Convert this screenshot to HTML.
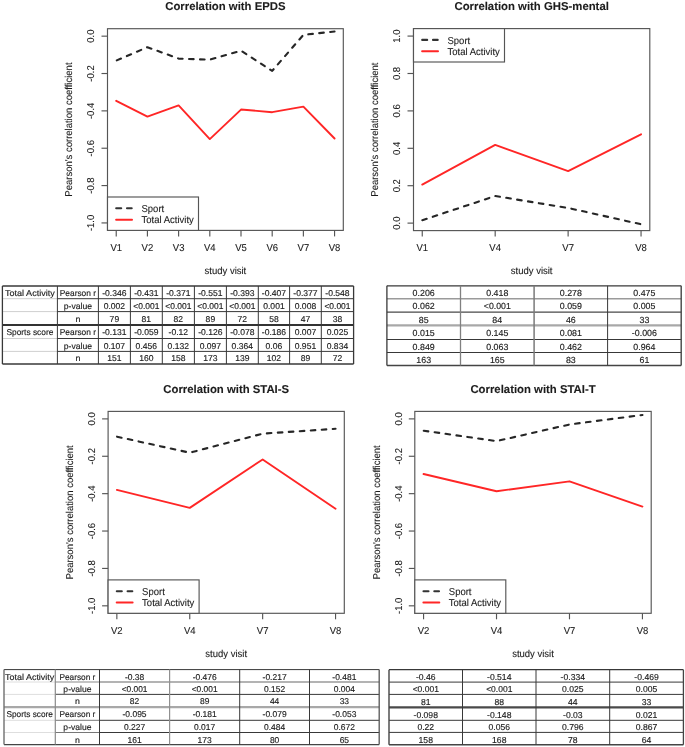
<!DOCTYPE html><html><head><meta charset="utf-8"><title>Correlation plots</title><style>html,body{margin:0;padding:0;background:#fff;overflow:hidden;}svg{display:block;font-family:"Liberation Sans", sans-serif;text-rendering:geometricPrecision;will-change:transform;font-variant-ligatures:none;font-kerning:normal;}.rt{fill:#1c1c1c;stroke:#1c1c1c;stroke-width:0.1px;}.tt{fill:#1c1c1c;stroke:#1c1c1c;stroke-width:0.15px;}</style></head><body>
<svg width="685" height="747" viewBox="0 0 685 747">
<rect width="685" height="747" fill="#fff"/>
<text class="rt" transform="translate(225.4,9.9) scale(1,1.01)" font-size="11.35" font-weight="bold" text-anchor="middle">Correlation with EPDS</text>
<rect x="107.5" y="28.7" width="235.8" height="201.7" fill="none" stroke="#555" stroke-width="1.15"/>
<line x1="101.5" y1="222.93" x2="107.5" y2="222.93" stroke="#555" stroke-width="1.15"/>
<text class="rt" transform="translate(94.2,222.93) rotate(-90) scale(1,1.05)" font-size="9.5" text-anchor="middle">-1.0</text>
<line x1="101.5" y1="185.58" x2="107.5" y2="185.58" stroke="#555" stroke-width="1.15"/>
<text class="rt" transform="translate(94.2,185.58) rotate(-90) scale(1,1.05)" font-size="9.5" text-anchor="middle">-0.8</text>
<line x1="101.5" y1="148.23" x2="107.5" y2="148.23" stroke="#555" stroke-width="1.15"/>
<text class="rt" transform="translate(94.2,148.23) rotate(-90) scale(1,1.05)" font-size="9.5" text-anchor="middle">-0.6</text>
<line x1="101.5" y1="110.87" x2="107.5" y2="110.87" stroke="#555" stroke-width="1.15"/>
<text class="rt" transform="translate(94.2,110.87) rotate(-90) scale(1,1.05)" font-size="9.5" text-anchor="middle">-0.4</text>
<line x1="101.5" y1="73.52" x2="107.5" y2="73.52" stroke="#555" stroke-width="1.15"/>
<text class="rt" transform="translate(94.2,73.52) rotate(-90) scale(1,1.05)" font-size="9.5" text-anchor="middle">-0.2</text>
<line x1="101.5" y1="36.17" x2="107.5" y2="36.17" stroke="#555" stroke-width="1.15"/>
<text class="rt" transform="translate(94.2,36.17) rotate(-90) scale(1,1.05)" font-size="9.5" text-anchor="middle">0.0</text>
<line x1="116.23" y1="230.4" x2="116.23" y2="236.4" stroke="#555" stroke-width="1.15"/>
<text class="rt" transform="translate(116.23,251.2) scale(1,1.05)" font-size="9.5" text-anchor="middle">V1</text>
<line x1="147.42" y1="230.4" x2="147.42" y2="236.4" stroke="#555" stroke-width="1.15"/>
<text class="rt" transform="translate(147.42,251.2) scale(1,1.05)" font-size="9.5" text-anchor="middle">V2</text>
<line x1="178.61" y1="230.4" x2="178.61" y2="236.4" stroke="#555" stroke-width="1.15"/>
<text class="rt" transform="translate(178.61,251.2) scale(1,1.05)" font-size="9.5" text-anchor="middle">V3</text>
<line x1="209.8" y1="230.4" x2="209.8" y2="236.4" stroke="#555" stroke-width="1.15"/>
<text class="rt" transform="translate(209.8,251.2) scale(1,1.05)" font-size="9.5" text-anchor="middle">V4</text>
<line x1="241" y1="230.4" x2="241" y2="236.4" stroke="#555" stroke-width="1.15"/>
<text class="rt" transform="translate(241,251.2) scale(1,1.05)" font-size="9.5" text-anchor="middle">V5</text>
<line x1="272.19" y1="230.4" x2="272.19" y2="236.4" stroke="#555" stroke-width="1.15"/>
<text class="rt" transform="translate(272.19,251.2) scale(1,1.05)" font-size="9.5" text-anchor="middle">V6</text>
<line x1="303.38" y1="230.4" x2="303.38" y2="236.4" stroke="#555" stroke-width="1.15"/>
<text class="rt" transform="translate(303.38,251.2) scale(1,1.05)" font-size="9.5" text-anchor="middle">V7</text>
<line x1="334.57" y1="230.4" x2="334.57" y2="236.4" stroke="#555" stroke-width="1.15"/>
<text class="rt" transform="translate(334.57,251.2) scale(1,1.05)" font-size="9.5" text-anchor="middle">V8</text>
<text class="rt" transform="translate(225.4,273.9) scale(1,1.05)" font-size="9.5" text-anchor="middle">study visit</text>
<text class="rt" transform="translate(72.3,129.55) rotate(-90) scale(1,1.05)" font-size="9.5" text-anchor="middle">Pearson's correlation coefficient</text>
<polyline points="116.23,60.64 147.42,47.19 178.61,58.58 209.8,59.7 241,50.74 272.19,70.91 303.38,34.86 334.57,31.5" fill="none" stroke="#262626" stroke-width="2.1" stroke-dasharray="4.6 6.4" stroke-dashoffset="-0.6" stroke-linecap="round" stroke-linejoin="round"/>
<polyline points="116.23,100.79 147.42,116.66 178.61,105.46 209.8,139.07 241,109.57 272.19,112.18 303.38,106.58 334.57,138.51" fill="none" stroke="#ff2626" stroke-width="1.9" stroke-linecap="round" stroke-linejoin="round"/>
<rect x="107.5" y="197" width="91" height="33.4" fill="#fff" stroke="#555" stroke-width="1.15"/>
<line x1="116.2" y1="208.3" x2="131.7" y2="208.3" stroke="#333" stroke-width="2.1" stroke-dasharray="5 5.8" stroke-linecap="round"/>
<line x1="116.1" y1="219.7" x2="132" y2="219.7" stroke="#ff2626" stroke-width="2.0" stroke-linecap="round"/>
<text class="rt" transform="translate(141.5,211.9) scale(1,1.05)" font-size="9.5">Sport</text>
<text class="rt" transform="translate(141.5,222.9) scale(1,1.05)" font-size="9.5">Total Activity</text>
<text class="rt" transform="translate(531.65,9.8) scale(1,1.01)" font-size="11.35" font-weight="bold" text-anchor="middle">Correlation with GHS-mental</text>
<rect x="413.5" y="28.6" width="236.3" height="202" fill="none" stroke="#555" stroke-width="1.15"/>
<line x1="407.5" y1="223.12" x2="413.5" y2="223.12" stroke="#555" stroke-width="1.15"/>
<text class="rt" transform="translate(400.2,223.12) rotate(-90) scale(1,1.05)" font-size="9.5" text-anchor="middle">0.0</text>
<line x1="407.5" y1="185.71" x2="413.5" y2="185.71" stroke="#555" stroke-width="1.15"/>
<text class="rt" transform="translate(400.2,185.71) rotate(-90) scale(1,1.05)" font-size="9.5" text-anchor="middle">0.2</text>
<line x1="407.5" y1="148.3" x2="413.5" y2="148.3" stroke="#555" stroke-width="1.15"/>
<text class="rt" transform="translate(400.2,148.3) rotate(-90) scale(1,1.05)" font-size="9.5" text-anchor="middle">0.4</text>
<line x1="407.5" y1="110.9" x2="413.5" y2="110.9" stroke="#555" stroke-width="1.15"/>
<text class="rt" transform="translate(400.2,110.9) rotate(-90) scale(1,1.05)" font-size="9.5" text-anchor="middle">0.6</text>
<line x1="407.5" y1="73.49" x2="413.5" y2="73.49" stroke="#555" stroke-width="1.15"/>
<text class="rt" transform="translate(400.2,73.49) rotate(-90) scale(1,1.05)" font-size="9.5" text-anchor="middle">0.8</text>
<line x1="407.5" y1="36.08" x2="413.5" y2="36.08" stroke="#555" stroke-width="1.15"/>
<text class="rt" transform="translate(400.2,36.08) rotate(-90) scale(1,1.05)" font-size="9.5" text-anchor="middle">1.0</text>
<line x1="422.25" y1="230.6" x2="422.25" y2="236.6" stroke="#555" stroke-width="1.15"/>
<text class="rt" transform="translate(422.25,251.4) scale(1,1.05)" font-size="9.5" text-anchor="middle">V1</text>
<line x1="495.18" y1="230.6" x2="495.18" y2="236.6" stroke="#555" stroke-width="1.15"/>
<text class="rt" transform="translate(495.18,251.4) scale(1,1.05)" font-size="9.5" text-anchor="middle">V4</text>
<line x1="568.12" y1="230.6" x2="568.12" y2="236.6" stroke="#555" stroke-width="1.15"/>
<text class="rt" transform="translate(568.12,251.4) scale(1,1.05)" font-size="9.5" text-anchor="middle">V7</text>
<line x1="641.05" y1="230.6" x2="641.05" y2="236.6" stroke="#555" stroke-width="1.15"/>
<text class="rt" transform="translate(641.05,251.4) scale(1,1.05)" font-size="9.5" text-anchor="middle">V8</text>
<text class="rt" transform="translate(531.65,274.1) scale(1,1.05)" font-size="9.5" text-anchor="middle">study visit</text>
<text class="rt" transform="translate(378.3,129.6) rotate(-90) scale(1,1.05)" font-size="9.5" text-anchor="middle">Pearson's correlation coefficient</text>
<polyline points="422.25,220.31 495.18,196 568.12,207.97 641.05,224.24" fill="none" stroke="#262626" stroke-width="2.1" stroke-dasharray="4.6 6.4" stroke-dashoffset="-0.1" stroke-linecap="round" stroke-linejoin="round"/>
<polyline points="422.25,184.59 495.18,144.94 568.12,171.12 641.05,134.28" fill="none" stroke="#ff2626" stroke-width="1.9" stroke-linecap="round" stroke-linejoin="round"/>
<rect x="413.5" y="28.6" width="91" height="33.4" fill="#fff" stroke="#555" stroke-width="1.15"/>
<line x1="422.2" y1="39.9" x2="437.7" y2="39.9" stroke="#333" stroke-width="2.1" stroke-dasharray="5 5.8" stroke-linecap="round"/>
<line x1="422.1" y1="51.3" x2="438" y2="51.3" stroke="#ff2626" stroke-width="2.0" stroke-linecap="round"/>
<text class="rt" transform="translate(447.5,43.5) scale(1,1.05)" font-size="9.5">Sport</text>
<text class="rt" transform="translate(447.5,54.5) scale(1,1.05)" font-size="9.5">Total Activity</text>
<text class="rt" transform="translate(226.2,392.6) scale(1,1.01)" font-size="11.35" font-weight="bold" text-anchor="middle">Correlation with STAI-S</text>
<rect x="108.1" y="411.4" width="236.2" height="201.9" fill="none" stroke="#555" stroke-width="1.15"/>
<line x1="102.1" y1="605.82" x2="108.1" y2="605.82" stroke="#555" stroke-width="1.15"/>
<text class="rt" transform="translate(94.8,605.82) rotate(-90) scale(1,1.05)" font-size="9.5" text-anchor="middle">-1.0</text>
<line x1="102.1" y1="568.43" x2="108.1" y2="568.43" stroke="#555" stroke-width="1.15"/>
<text class="rt" transform="translate(94.8,568.43) rotate(-90) scale(1,1.05)" font-size="9.5" text-anchor="middle">-0.8</text>
<line x1="102.1" y1="531.04" x2="108.1" y2="531.04" stroke="#555" stroke-width="1.15"/>
<text class="rt" transform="translate(94.8,531.04) rotate(-90) scale(1,1.05)" font-size="9.5" text-anchor="middle">-0.6</text>
<line x1="102.1" y1="493.66" x2="108.1" y2="493.66" stroke="#555" stroke-width="1.15"/>
<text class="rt" transform="translate(94.8,493.66) rotate(-90) scale(1,1.05)" font-size="9.5" text-anchor="middle">-0.4</text>
<line x1="102.1" y1="456.27" x2="108.1" y2="456.27" stroke="#555" stroke-width="1.15"/>
<text class="rt" transform="translate(94.8,456.27) rotate(-90) scale(1,1.05)" font-size="9.5" text-anchor="middle">-0.2</text>
<line x1="102.1" y1="418.88" x2="108.1" y2="418.88" stroke="#555" stroke-width="1.15"/>
<text class="rt" transform="translate(94.8,418.88) rotate(-90) scale(1,1.05)" font-size="9.5" text-anchor="middle">0.0</text>
<line x1="116.85" y1="613.3" x2="116.85" y2="619.3" stroke="#555" stroke-width="1.15"/>
<text class="rt" transform="translate(116.85,634.1) scale(1,1.05)" font-size="9.5" text-anchor="middle">V2</text>
<line x1="189.75" y1="613.3" x2="189.75" y2="619.3" stroke="#555" stroke-width="1.15"/>
<text class="rt" transform="translate(189.75,634.1) scale(1,1.05)" font-size="9.5" text-anchor="middle">V4</text>
<line x1="262.65" y1="613.3" x2="262.65" y2="619.3" stroke="#555" stroke-width="1.15"/>
<text class="rt" transform="translate(262.65,634.1) scale(1,1.05)" font-size="9.5" text-anchor="middle">V7</text>
<line x1="335.55" y1="613.3" x2="335.55" y2="619.3" stroke="#555" stroke-width="1.15"/>
<text class="rt" transform="translate(335.55,634.1) scale(1,1.05)" font-size="9.5" text-anchor="middle">V8</text>
<text class="rt" transform="translate(226.2,656.8) scale(1,1.05)" font-size="9.5" text-anchor="middle">study visit</text>
<text class="rt" transform="translate(72.9,512.35) rotate(-90) scale(1,1.05)" font-size="9.5" text-anchor="middle">Pearson's correlation coefficient</text>
<polyline points="116.85,436.64 189.75,452.71 262.65,433.65 335.55,428.79" fill="none" stroke="#262626" stroke-width="2.1" stroke-dasharray="4.6 6.4" stroke-dashoffset="-0.2" stroke-linecap="round" stroke-linejoin="round"/>
<polyline points="116.85,489.92 189.75,507.86 262.65,459.44 335.55,508.8" fill="none" stroke="#ff2626" stroke-width="1.9" stroke-linecap="round" stroke-linejoin="round"/>
<rect x="108.1" y="579.9" width="91" height="33.4" fill="#fff" stroke="#555" stroke-width="1.15"/>
<line x1="116.8" y1="591.2" x2="132.3" y2="591.2" stroke="#333" stroke-width="2.1" stroke-dasharray="5 5.8" stroke-linecap="round"/>
<line x1="116.7" y1="602.6" x2="132.6" y2="602.6" stroke="#ff2626" stroke-width="2.0" stroke-linecap="round"/>
<text class="rt" transform="translate(142.1,594.8) scale(1,1.05)" font-size="9.5">Sport</text>
<text class="rt" transform="translate(142.1,605.8) scale(1,1.05)" font-size="9.5">Total Activity</text>
<text class="rt" transform="translate(533,392.6) scale(1,1.01)" font-size="11.35" font-weight="bold" text-anchor="middle">Correlation with STAI-T</text>
<rect x="414.8" y="411.4" width="236.4" height="201.9" fill="none" stroke="#555" stroke-width="1.15"/>
<line x1="408.8" y1="605.82" x2="414.8" y2="605.82" stroke="#555" stroke-width="1.15"/>
<text class="rt" transform="translate(401.5,605.82) rotate(-90) scale(1,1.05)" font-size="9.5" text-anchor="middle">-1.0</text>
<line x1="408.8" y1="568.43" x2="414.8" y2="568.43" stroke="#555" stroke-width="1.15"/>
<text class="rt" transform="translate(401.5,568.43) rotate(-90) scale(1,1.05)" font-size="9.5" text-anchor="middle">-0.8</text>
<line x1="408.8" y1="531.04" x2="414.8" y2="531.04" stroke="#555" stroke-width="1.15"/>
<text class="rt" transform="translate(401.5,531.04) rotate(-90) scale(1,1.05)" font-size="9.5" text-anchor="middle">-0.6</text>
<line x1="408.8" y1="493.66" x2="414.8" y2="493.66" stroke="#555" stroke-width="1.15"/>
<text class="rt" transform="translate(401.5,493.66) rotate(-90) scale(1,1.05)" font-size="9.5" text-anchor="middle">-0.4</text>
<line x1="408.8" y1="456.27" x2="414.8" y2="456.27" stroke="#555" stroke-width="1.15"/>
<text class="rt" transform="translate(401.5,456.27) rotate(-90) scale(1,1.05)" font-size="9.5" text-anchor="middle">-0.2</text>
<line x1="408.8" y1="418.88" x2="414.8" y2="418.88" stroke="#555" stroke-width="1.15"/>
<text class="rt" transform="translate(401.5,418.88) rotate(-90) scale(1,1.05)" font-size="9.5" text-anchor="middle">0.0</text>
<line x1="423.56" y1="613.3" x2="423.56" y2="619.3" stroke="#555" stroke-width="1.15"/>
<text class="rt" transform="translate(423.56,634.1) scale(1,1.05)" font-size="9.5" text-anchor="middle">V2</text>
<line x1="496.52" y1="613.3" x2="496.52" y2="619.3" stroke="#555" stroke-width="1.15"/>
<text class="rt" transform="translate(496.52,634.1) scale(1,1.05)" font-size="9.5" text-anchor="middle">V4</text>
<line x1="569.48" y1="613.3" x2="569.48" y2="619.3" stroke="#555" stroke-width="1.15"/>
<text class="rt" transform="translate(569.48,634.1) scale(1,1.05)" font-size="9.5" text-anchor="middle">V7</text>
<line x1="642.44" y1="613.3" x2="642.44" y2="619.3" stroke="#555" stroke-width="1.15"/>
<text class="rt" transform="translate(642.44,634.1) scale(1,1.05)" font-size="9.5" text-anchor="middle">V8</text>
<text class="rt" transform="translate(533,656.8) scale(1,1.05)" font-size="9.5" text-anchor="middle">study visit</text>
<text class="rt" transform="translate(379.6,512.35) rotate(-90) scale(1,1.05)" font-size="9.5" text-anchor="middle">Pearson's correlation coefficient</text>
<polyline points="423.56,430.66 496.52,441.12 569.48,424.49 642.44,414.95" fill="none" stroke="#262626" stroke-width="2.1" stroke-dasharray="4.6 6.4" stroke-dashoffset="-0.2" stroke-linecap="round" stroke-linejoin="round"/>
<polyline points="423.56,474.03 496.52,491.23 569.48,481.32 642.44,506.55" fill="none" stroke="#ff2626" stroke-width="1.9" stroke-linecap="round" stroke-linejoin="round"/>
<rect x="414.8" y="579.9" width="91" height="33.4" fill="#fff" stroke="#555" stroke-width="1.15"/>
<line x1="423.5" y1="591.2" x2="439" y2="591.2" stroke="#333" stroke-width="2.1" stroke-dasharray="5 5.8" stroke-linecap="round"/>
<line x1="423.4" y1="602.6" x2="439.3" y2="602.6" stroke="#ff2626" stroke-width="2.0" stroke-linecap="round"/>
<text class="rt" transform="translate(448.8,594.8) scale(1,1.05)" font-size="9.5">Sport</text>
<text class="rt" transform="translate(448.8,605.8) scale(1,1.05)" font-size="9.5">Total Activity</text>
<line x1="2.4" y1="286" x2="353.6" y2="286" stroke="#383838" stroke-width="1.3"/>
<line x1="2.4" y1="298.7" x2="57.4" y2="298.7" stroke="#cfcfcf" stroke-width="1.0"/>
<line x1="57.4" y1="298.7" x2="353.6" y2="298.7" stroke="#383838" stroke-width="1.0"/>
<line x1="2.4" y1="311.6" x2="57.4" y2="311.6" stroke="#cfcfcf" stroke-width="1.0"/>
<line x1="57.4" y1="311.6" x2="353.6" y2="311.6" stroke="#383838" stroke-width="1.0"/>
<line x1="2.4" y1="325" x2="353.6" y2="325" stroke="#333" stroke-width="2.0"/>
<line x1="2.4" y1="338.5" x2="57.4" y2="338.5" stroke="#cfcfcf" stroke-width="1.0"/>
<line x1="57.4" y1="338.5" x2="353.6" y2="338.5" stroke="#383838" stroke-width="1.0"/>
<line x1="2.4" y1="351.4" x2="57.4" y2="351.4" stroke="#cfcfcf" stroke-width="1.0"/>
<line x1="57.4" y1="351.4" x2="353.6" y2="351.4" stroke="#383838" stroke-width="1.0"/>
<line x1="2.4" y1="364" x2="353.6" y2="364" stroke="#383838" stroke-width="1.3"/>
<line x1="2.4" y1="286" x2="2.4" y2="364" stroke="#383838" stroke-width="1.3"/>
<line x1="57.4" y1="286" x2="57.4" y2="364" stroke="#383838" stroke-width="1.0"/>
<line x1="98.4" y1="286" x2="98.4" y2="364" stroke="#383838" stroke-width="1.0"/>
<line x1="130.4" y1="286" x2="130.4" y2="364" stroke="#383838" stroke-width="1.0"/>
<line x1="162.3" y1="286" x2="162.3" y2="364" stroke="#383838" stroke-width="1.0"/>
<line x1="194.4" y1="286" x2="194.4" y2="364" stroke="#383838" stroke-width="1.0"/>
<line x1="226.4" y1="286" x2="226.4" y2="364" stroke="#383838" stroke-width="1.0"/>
<line x1="258.3" y1="286" x2="258.3" y2="364" stroke="#383838" stroke-width="1.0"/>
<line x1="289.6" y1="286" x2="289.6" y2="364" stroke="#383838" stroke-width="1.0"/>
<line x1="321.3" y1="286" x2="321.3" y2="364" stroke="#383838" stroke-width="1.0"/>
<line x1="353.6" y1="286" x2="353.6" y2="364" stroke="#383838" stroke-width="1.3"/>
<text class="tt" x="29.9" y="296" font-size="8.5" text-anchor="middle" textLength="49.99" lengthAdjust="spacingAndGlyphs">Total Activity</text>
<text class="tt" x="77.9" y="296" font-size="8.5" text-anchor="middle" textLength="36.29" lengthAdjust="spacingAndGlyphs">Pearson r</text>
<text class="tt" x="114.4" y="296" font-size="8.5" text-anchor="middle" textLength="24.31" lengthAdjust="spacingAndGlyphs">-0.346</text>
<text class="tt" x="146.35" y="296" font-size="8.5" text-anchor="middle" textLength="24.31" lengthAdjust="spacingAndGlyphs">-0.431</text>
<text class="tt" x="178.35" y="296" font-size="8.5" text-anchor="middle" textLength="24.31" lengthAdjust="spacingAndGlyphs">-0.371</text>
<text class="tt" x="210.4" y="296" font-size="8.5" text-anchor="middle" textLength="24.31" lengthAdjust="spacingAndGlyphs">-0.551</text>
<text class="tt" x="242.35" y="296" font-size="8.5" text-anchor="middle" textLength="24.31" lengthAdjust="spacingAndGlyphs">-0.393</text>
<text class="tt" x="273.95" y="296" font-size="8.5" text-anchor="middle" textLength="24.31" lengthAdjust="spacingAndGlyphs">-0.407</text>
<text class="tt" x="305.45" y="296" font-size="8.5" text-anchor="middle" textLength="24.31" lengthAdjust="spacingAndGlyphs">-0.377</text>
<text class="tt" x="337.45" y="296" font-size="8.5" text-anchor="middle" textLength="24.31" lengthAdjust="spacingAndGlyphs">-0.548</text>
<text class="tt" x="77.9" y="308.7" font-size="8.5" text-anchor="middle" textLength="28.33" lengthAdjust="spacingAndGlyphs">p-value</text>
<text class="tt" x="114.4" y="308.7" font-size="8.5" text-anchor="middle" textLength="21.43" lengthAdjust="spacingAndGlyphs">0.002</text>
<text class="tt" x="146.35" y="308.7" font-size="8.5" text-anchor="middle" textLength="26.11" lengthAdjust="spacingAndGlyphs">&lt;0.001</text>
<text class="tt" x="178.35" y="308.7" font-size="8.5" text-anchor="middle" textLength="26.11" lengthAdjust="spacingAndGlyphs">&lt;0.001</text>
<text class="tt" x="210.4" y="308.7" font-size="8.5" text-anchor="middle" textLength="26.11" lengthAdjust="spacingAndGlyphs">&lt;0.001</text>
<text class="tt" x="242.35" y="308.7" font-size="8.5" text-anchor="middle" textLength="26.11" lengthAdjust="spacingAndGlyphs">&lt;0.001</text>
<text class="tt" x="273.95" y="308.7" font-size="8.5" text-anchor="middle" textLength="21.43" lengthAdjust="spacingAndGlyphs">0.001</text>
<text class="tt" x="305.45" y="308.7" font-size="8.5" text-anchor="middle" textLength="21.43" lengthAdjust="spacingAndGlyphs">0.008</text>
<text class="tt" x="337.45" y="308.7" font-size="8.5" text-anchor="middle" textLength="26.11" lengthAdjust="spacingAndGlyphs">&lt;0.001</text>
<text class="tt" x="77.9" y="321.6" font-size="8.5" text-anchor="middle" textLength="4.94" lengthAdjust="spacingAndGlyphs">n</text>
<text class="tt" x="114.4" y="321.6" font-size="8.5" text-anchor="middle" textLength="9.53" lengthAdjust="spacingAndGlyphs">79</text>
<text class="tt" x="146.35" y="321.6" font-size="8.5" text-anchor="middle" textLength="9.53" lengthAdjust="spacingAndGlyphs">81</text>
<text class="tt" x="178.35" y="321.6" font-size="8.5" text-anchor="middle" textLength="9.53" lengthAdjust="spacingAndGlyphs">82</text>
<text class="tt" x="210.4" y="321.6" font-size="8.5" text-anchor="middle" textLength="9.53" lengthAdjust="spacingAndGlyphs">89</text>
<text class="tt" x="242.35" y="321.6" font-size="8.5" text-anchor="middle" textLength="9.53" lengthAdjust="spacingAndGlyphs">72</text>
<text class="tt" x="273.95" y="321.6" font-size="8.5" text-anchor="middle" textLength="9.53" lengthAdjust="spacingAndGlyphs">58</text>
<text class="tt" x="305.45" y="321.6" font-size="8.5" text-anchor="middle" textLength="9.53" lengthAdjust="spacingAndGlyphs">47</text>
<text class="tt" x="337.45" y="321.6" font-size="8.5" text-anchor="middle" textLength="9.53" lengthAdjust="spacingAndGlyphs">38</text>
<text class="tt" x="29.9" y="335" font-size="8.5" text-anchor="middle" textLength="47" lengthAdjust="spacingAndGlyphs">Sports score</text>
<text class="tt" x="77.9" y="335" font-size="8.5" text-anchor="middle" textLength="36.29" lengthAdjust="spacingAndGlyphs">Pearson r</text>
<text class="tt" x="114.4" y="335" font-size="8.5" text-anchor="middle" textLength="24.31" lengthAdjust="spacingAndGlyphs">-0.131</text>
<text class="tt" x="146.35" y="335" font-size="8.5" text-anchor="middle" textLength="24.31" lengthAdjust="spacingAndGlyphs">-0.059</text>
<text class="tt" x="178.35" y="335" font-size="8.5" text-anchor="middle" textLength="19.54" lengthAdjust="spacingAndGlyphs">-0.12</text>
<text class="tt" x="210.4" y="335" font-size="8.5" text-anchor="middle" textLength="24.31" lengthAdjust="spacingAndGlyphs">-0.126</text>
<text class="tt" x="242.35" y="335" font-size="8.5" text-anchor="middle" textLength="24.31" lengthAdjust="spacingAndGlyphs">-0.078</text>
<text class="tt" x="273.95" y="335" font-size="8.5" text-anchor="middle" textLength="24.31" lengthAdjust="spacingAndGlyphs">-0.186</text>
<text class="tt" x="305.45" y="335" font-size="8.5" text-anchor="middle" textLength="21.43" lengthAdjust="spacingAndGlyphs">0.007</text>
<text class="tt" x="337.45" y="335" font-size="8.5" text-anchor="middle" textLength="21.43" lengthAdjust="spacingAndGlyphs">0.025</text>
<text class="tt" x="77.9" y="348.5" font-size="8.5" text-anchor="middle" textLength="28.33" lengthAdjust="spacingAndGlyphs">p-value</text>
<text class="tt" x="114.4" y="348.5" font-size="8.5" text-anchor="middle" textLength="21.43" lengthAdjust="spacingAndGlyphs">0.107</text>
<text class="tt" x="146.35" y="348.5" font-size="8.5" text-anchor="middle" textLength="21.43" lengthAdjust="spacingAndGlyphs">0.456</text>
<text class="tt" x="178.35" y="348.5" font-size="8.5" text-anchor="middle" textLength="21.43" lengthAdjust="spacingAndGlyphs">0.132</text>
<text class="tt" x="210.4" y="348.5" font-size="8.5" text-anchor="middle" textLength="21.43" lengthAdjust="spacingAndGlyphs">0.097</text>
<text class="tt" x="242.35" y="348.5" font-size="8.5" text-anchor="middle" textLength="21.43" lengthAdjust="spacingAndGlyphs">0.364</text>
<text class="tt" x="273.95" y="348.5" font-size="8.5" text-anchor="middle" textLength="16.67" lengthAdjust="spacingAndGlyphs">0.06</text>
<text class="tt" x="305.45" y="348.5" font-size="8.5" text-anchor="middle" textLength="21.43" lengthAdjust="spacingAndGlyphs">0.951</text>
<text class="tt" x="337.45" y="348.5" font-size="8.5" text-anchor="middle" textLength="21.43" lengthAdjust="spacingAndGlyphs">0.834</text>
<text class="tt" x="77.9" y="361.4" font-size="8.5" text-anchor="middle" textLength="4.94" lengthAdjust="spacingAndGlyphs">n</text>
<text class="tt" x="114.4" y="361.4" font-size="8.5" text-anchor="middle" textLength="14.3" lengthAdjust="spacingAndGlyphs">151</text>
<text class="tt" x="146.35" y="361.4" font-size="8.5" text-anchor="middle" textLength="14.3" lengthAdjust="spacingAndGlyphs">160</text>
<text class="tt" x="178.35" y="361.4" font-size="8.5" text-anchor="middle" textLength="14.3" lengthAdjust="spacingAndGlyphs">158</text>
<text class="tt" x="210.4" y="361.4" font-size="8.5" text-anchor="middle" textLength="14.3" lengthAdjust="spacingAndGlyphs">173</text>
<text class="tt" x="242.35" y="361.4" font-size="8.5" text-anchor="middle" textLength="14.3" lengthAdjust="spacingAndGlyphs">139</text>
<text class="tt" x="273.95" y="361.4" font-size="8.5" text-anchor="middle" textLength="14.3" lengthAdjust="spacingAndGlyphs">102</text>
<text class="tt" x="305.45" y="361.4" font-size="8.5" text-anchor="middle" textLength="9.53" lengthAdjust="spacingAndGlyphs">89</text>
<text class="tt" x="337.45" y="361.4" font-size="8.5" text-anchor="middle" textLength="9.53" lengthAdjust="spacingAndGlyphs">72</text>
<line x1="386.9" y1="285.8" x2="681.2" y2="285.8" stroke="#383838" stroke-width="1.3"/>
<line x1="386.9" y1="298.8" x2="681.2" y2="298.8" stroke="#9a9a9a" stroke-width="1.5"/>
<line x1="386.9" y1="312.2" x2="681.2" y2="312.2" stroke="#484848" stroke-width="1.2"/>
<line x1="386.9" y1="325.4" x2="681.2" y2="325.4" stroke="#a8a8a8" stroke-width="2.2"/>
<line x1="386.9" y1="339.5" x2="681.2" y2="339.5" stroke="#383838" stroke-width="1.0"/>
<line x1="386.9" y1="352.5" x2="681.2" y2="352.5" stroke="#383838" stroke-width="1.0"/>
<line x1="386.9" y1="365.5" x2="681.2" y2="365.5" stroke="#444" stroke-width="1.4"/>
<line x1="386.9" y1="285.8" x2="386.9" y2="365.5" stroke="#383838" stroke-width="1.3"/>
<line x1="460.5" y1="285.8" x2="460.5" y2="365.5" stroke="#808080" stroke-width="1.3"/>
<line x1="534.1" y1="285.8" x2="534.1" y2="365.5" stroke="#7a7a7a" stroke-width="1.5"/>
<line x1="607.6" y1="285.8" x2="607.6" y2="365.5" stroke="#383838" stroke-width="1.0"/>
<line x1="681.2" y1="285.8" x2="681.2" y2="365.5" stroke="#444" stroke-width="1.4"/>
<text class="tt" x="423.7" y="296.2" font-size="8.8" text-anchor="middle" textLength="22.12" lengthAdjust="spacingAndGlyphs">0.206</text>
<text class="tt" x="497.3" y="296.2" font-size="8.8" text-anchor="middle" textLength="22.12" lengthAdjust="spacingAndGlyphs">0.418</text>
<text class="tt" x="570.85" y="296.2" font-size="8.8" text-anchor="middle" textLength="22.12" lengthAdjust="spacingAndGlyphs">0.278</text>
<text class="tt" x="644.4" y="296.2" font-size="8.8" text-anchor="middle" textLength="22.12" lengthAdjust="spacingAndGlyphs">0.475</text>
<text class="tt" x="423.7" y="309.2" font-size="8.8" text-anchor="middle" textLength="22.12" lengthAdjust="spacingAndGlyphs">0.062</text>
<text class="tt" x="497.3" y="309.2" font-size="8.8" text-anchor="middle" textLength="26.95" lengthAdjust="spacingAndGlyphs">&lt;0.001</text>
<text class="tt" x="570.85" y="309.2" font-size="8.8" text-anchor="middle" textLength="22.12" lengthAdjust="spacingAndGlyphs">0.059</text>
<text class="tt" x="644.4" y="309.2" font-size="8.8" text-anchor="middle" textLength="22.12" lengthAdjust="spacingAndGlyphs">0.005</text>
<text class="tt" x="423.7" y="322.6" font-size="8.8" text-anchor="middle" textLength="9.84" lengthAdjust="spacingAndGlyphs">85</text>
<text class="tt" x="497.3" y="322.6" font-size="8.8" text-anchor="middle" textLength="9.84" lengthAdjust="spacingAndGlyphs">84</text>
<text class="tt" x="570.85" y="322.6" font-size="8.8" text-anchor="middle" textLength="9.84" lengthAdjust="spacingAndGlyphs">46</text>
<text class="tt" x="644.4" y="322.6" font-size="8.8" text-anchor="middle" textLength="9.84" lengthAdjust="spacingAndGlyphs">33</text>
<text class="tt" x="423.7" y="335.8" font-size="8.8" text-anchor="middle" textLength="22.12" lengthAdjust="spacingAndGlyphs">0.015</text>
<text class="tt" x="497.3" y="335.8" font-size="8.8" text-anchor="middle" textLength="22.12" lengthAdjust="spacingAndGlyphs">0.145</text>
<text class="tt" x="570.85" y="335.8" font-size="8.8" text-anchor="middle" textLength="22.12" lengthAdjust="spacingAndGlyphs">0.081</text>
<text class="tt" x="644.4" y="335.8" font-size="8.8" text-anchor="middle" textLength="25.08" lengthAdjust="spacingAndGlyphs">-0.006</text>
<text class="tt" x="423.7" y="349.9" font-size="8.8" text-anchor="middle" textLength="22.12" lengthAdjust="spacingAndGlyphs">0.849</text>
<text class="tt" x="497.3" y="349.9" font-size="8.8" text-anchor="middle" textLength="22.12" lengthAdjust="spacingAndGlyphs">0.063</text>
<text class="tt" x="570.85" y="349.9" font-size="8.8" text-anchor="middle" textLength="22.12" lengthAdjust="spacingAndGlyphs">0.462</text>
<text class="tt" x="644.4" y="349.9" font-size="8.8" text-anchor="middle" textLength="22.12" lengthAdjust="spacingAndGlyphs">0.964</text>
<text class="tt" x="423.7" y="362.9" font-size="8.8" text-anchor="middle" textLength="14.75" lengthAdjust="spacingAndGlyphs">163</text>
<text class="tt" x="497.3" y="362.9" font-size="8.8" text-anchor="middle" textLength="14.75" lengthAdjust="spacingAndGlyphs">165</text>
<text class="tt" x="570.85" y="362.9" font-size="8.8" text-anchor="middle" textLength="9.84" lengthAdjust="spacingAndGlyphs">83</text>
<text class="tt" x="644.4" y="362.9" font-size="8.8" text-anchor="middle" textLength="9.84" lengthAdjust="spacingAndGlyphs">61</text>
<line x1="4" y1="669.6" x2="379.2" y2="669.6" stroke="#383838" stroke-width="1.0"/>
<line x1="4" y1="682" x2="55.3" y2="682" stroke="#dedede" stroke-width="1.0"/>
<line x1="55.3" y1="682" x2="99.5" y2="682" stroke="#8a8a8a" stroke-width="1.2"/>
<line x1="99.5" y1="682" x2="379.2" y2="682" stroke="#9a9a9a" stroke-width="1.5"/>
<line x1="4" y1="694.4" x2="55.3" y2="694.4" stroke="#dedede" stroke-width="1.0"/>
<line x1="55.3" y1="694.4" x2="99.5" y2="694.4" stroke="#6a6a6a" stroke-width="1.1"/>
<line x1="99.5" y1="694.4" x2="379.2" y2="694.4" stroke="#383838" stroke-width="1.0"/>
<line x1="4" y1="707.2" x2="379.2" y2="707.2" stroke="#a8a8a8" stroke-width="2.2"/>
<line x1="4" y1="720.3" x2="55.3" y2="720.3" stroke="#dedede" stroke-width="1.0"/>
<line x1="55.3" y1="720.3" x2="99.5" y2="720.3" stroke="#777" stroke-width="1.0"/>
<line x1="99.5" y1="720.3" x2="379.2" y2="720.3" stroke="#383838" stroke-width="1.0"/>
<line x1="4" y1="732.5" x2="55.3" y2="732.5" stroke="#dedede" stroke-width="1.0"/>
<line x1="55.3" y1="732.5" x2="99.5" y2="732.5" stroke="#777" stroke-width="1.0"/>
<line x1="99.5" y1="732.5" x2="379.2" y2="732.5" stroke="#383838" stroke-width="1.0"/>
<line x1="4" y1="744.6" x2="379.2" y2="744.6" stroke="#444" stroke-width="1.4"/>
<line x1="4" y1="669.6" x2="4" y2="744.6" stroke="#6f6f6f" stroke-width="1.4"/>
<line x1="55.3" y1="669.6" x2="55.3" y2="744.6" stroke="#8a8a8a" stroke-width="1.2"/>
<line x1="99.5" y1="669.6" x2="99.5" y2="744.6" stroke="#383838" stroke-width="1.0"/>
<line x1="169.6" y1="669.6" x2="169.6" y2="744.6" stroke="#909090" stroke-width="1.2"/>
<line x1="239.7" y1="669.6" x2="239.7" y2="744.6" stroke="#383838" stroke-width="1.0"/>
<line x1="309.5" y1="669.6" x2="309.5" y2="744.6" stroke="#383838" stroke-width="1.0"/>
<line x1="379.2" y1="669.6" x2="379.2" y2="744.6" stroke="#555" stroke-width="1.3"/>
<text class="tt" x="29.65" y="679.6" font-size="8.5" text-anchor="middle" textLength="49.46" lengthAdjust="spacingAndGlyphs">Total Activity</text>
<text class="tt" x="77.4" y="679.6" font-size="8.5" text-anchor="middle" textLength="35.91" lengthAdjust="spacingAndGlyphs">Pearson r</text>
<text class="tt" x="134.55" y="679.6" font-size="8.5" text-anchor="middle" textLength="19.33" lengthAdjust="spacingAndGlyphs">-0.38</text>
<text class="tt" x="204.65" y="679.6" font-size="8.5" text-anchor="middle" textLength="24.05" lengthAdjust="spacingAndGlyphs">-0.476</text>
<text class="tt" x="274.6" y="679.6" font-size="8.5" text-anchor="middle" textLength="24.05" lengthAdjust="spacingAndGlyphs">-0.217</text>
<text class="tt" x="344.35" y="679.6" font-size="8.5" text-anchor="middle" textLength="24.05" lengthAdjust="spacingAndGlyphs">-0.481</text>
<text class="tt" x="77.4" y="692" font-size="8.5" text-anchor="middle" textLength="28.03" lengthAdjust="spacingAndGlyphs">p-value</text>
<text class="tt" x="134.55" y="692" font-size="8.5" text-anchor="middle" textLength="25.84" lengthAdjust="spacingAndGlyphs">&lt;0.001</text>
<text class="tt" x="204.65" y="692" font-size="8.5" text-anchor="middle" textLength="25.84" lengthAdjust="spacingAndGlyphs">&lt;0.001</text>
<text class="tt" x="274.6" y="692" font-size="8.5" text-anchor="middle" textLength="21.2" lengthAdjust="spacingAndGlyphs">0.152</text>
<text class="tt" x="344.35" y="692" font-size="8.5" text-anchor="middle" textLength="21.2" lengthAdjust="spacingAndGlyphs">0.004</text>
<text class="tt" x="77.4" y="704.4" font-size="8.5" text-anchor="middle" textLength="4.88" lengthAdjust="spacingAndGlyphs">n</text>
<text class="tt" x="134.55" y="704.4" font-size="8.5" text-anchor="middle" textLength="9.43" lengthAdjust="spacingAndGlyphs">82</text>
<text class="tt" x="204.65" y="704.4" font-size="8.5" text-anchor="middle" textLength="9.43" lengthAdjust="spacingAndGlyphs">89</text>
<text class="tt" x="274.6" y="704.4" font-size="8.5" text-anchor="middle" textLength="9.43" lengthAdjust="spacingAndGlyphs">44</text>
<text class="tt" x="344.35" y="704.4" font-size="8.5" text-anchor="middle" textLength="9.43" lengthAdjust="spacingAndGlyphs">33</text>
<text class="tt" x="29.65" y="717.2" font-size="8.5" text-anchor="middle" textLength="46.5" lengthAdjust="spacingAndGlyphs">Sports score</text>
<text class="tt" x="77.4" y="717.2" font-size="8.5" text-anchor="middle" textLength="35.91" lengthAdjust="spacingAndGlyphs">Pearson r</text>
<text class="tt" x="134.55" y="717.2" font-size="8.5" text-anchor="middle" textLength="24.05" lengthAdjust="spacingAndGlyphs">-0.095</text>
<text class="tt" x="204.65" y="717.2" font-size="8.5" text-anchor="middle" textLength="24.05" lengthAdjust="spacingAndGlyphs">-0.181</text>
<text class="tt" x="274.6" y="717.2" font-size="8.5" text-anchor="middle" textLength="24.05" lengthAdjust="spacingAndGlyphs">-0.079</text>
<text class="tt" x="344.35" y="717.2" font-size="8.5" text-anchor="middle" textLength="24.05" lengthAdjust="spacingAndGlyphs">-0.053</text>
<text class="tt" x="77.4" y="730.3" font-size="8.5" text-anchor="middle" textLength="28.03" lengthAdjust="spacingAndGlyphs">p-value</text>
<text class="tt" x="134.55" y="730.3" font-size="8.5" text-anchor="middle" textLength="21.2" lengthAdjust="spacingAndGlyphs">0.227</text>
<text class="tt" x="204.65" y="730.3" font-size="8.5" text-anchor="middle" textLength="21.2" lengthAdjust="spacingAndGlyphs">0.017</text>
<text class="tt" x="274.6" y="730.3" font-size="8.5" text-anchor="middle" textLength="21.2" lengthAdjust="spacingAndGlyphs">0.484</text>
<text class="tt" x="344.35" y="730.3" font-size="8.5" text-anchor="middle" textLength="21.2" lengthAdjust="spacingAndGlyphs">0.672</text>
<text class="tt" x="77.4" y="742.5" font-size="8.5" text-anchor="middle" textLength="4.88" lengthAdjust="spacingAndGlyphs">n</text>
<text class="tt" x="134.55" y="742.5" font-size="8.5" text-anchor="middle" textLength="14.15" lengthAdjust="spacingAndGlyphs">161</text>
<text class="tt" x="204.65" y="742.5" font-size="8.5" text-anchor="middle" textLength="14.15" lengthAdjust="spacingAndGlyphs">173</text>
<text class="tt" x="274.6" y="742.5" font-size="8.5" text-anchor="middle" textLength="9.43" lengthAdjust="spacingAndGlyphs">80</text>
<text class="tt" x="344.35" y="742.5" font-size="8.5" text-anchor="middle" textLength="9.43" lengthAdjust="spacingAndGlyphs">65</text>
<line x1="389" y1="669.7" x2="683.4" y2="669.7" stroke="#383838" stroke-width="1.3"/>
<line x1="389" y1="682.1" x2="683.4" y2="682.1" stroke="#383838" stroke-width="1.0"/>
<line x1="389" y1="694.4" x2="683.4" y2="694.4" stroke="#383838" stroke-width="1.0"/>
<line x1="389" y1="707.4" x2="683.4" y2="707.4" stroke="#4a4a4a" stroke-width="2.2"/>
<line x1="389" y1="720.3" x2="683.4" y2="720.3" stroke="#383838" stroke-width="1.0"/>
<line x1="389" y1="732.4" x2="683.4" y2="732.4" stroke="#383838" stroke-width="1.0"/>
<line x1="389" y1="744.7" x2="683.4" y2="744.7" stroke="#444" stroke-width="1.4"/>
<line x1="389" y1="669.7" x2="389" y2="744.7" stroke="#444" stroke-width="1.4"/>
<line x1="462.5" y1="669.7" x2="462.5" y2="744.7" stroke="#383838" stroke-width="1.0"/>
<line x1="536" y1="669.7" x2="536" y2="744.7" stroke="#383838" stroke-width="1.0"/>
<line x1="609.7" y1="669.7" x2="609.7" y2="744.7" stroke="#383838" stroke-width="1.0"/>
<line x1="683.4" y1="669.7" x2="683.4" y2="744.7" stroke="#444" stroke-width="1.3"/>
<text class="tt" x="425.75" y="679.8" font-size="8.6" text-anchor="middle" textLength="19.65" lengthAdjust="spacingAndGlyphs">-0.46</text>
<text class="tt" x="499.25" y="679.8" font-size="8.6" text-anchor="middle" textLength="24.44" lengthAdjust="spacingAndGlyphs">-0.514</text>
<text class="tt" x="572.85" y="679.8" font-size="8.6" text-anchor="middle" textLength="24.44" lengthAdjust="spacingAndGlyphs">-0.334</text>
<text class="tt" x="646.55" y="679.8" font-size="8.6" text-anchor="middle" textLength="24.44" lengthAdjust="spacingAndGlyphs">-0.469</text>
<text class="tt" x="425.75" y="692.2" font-size="8.6" text-anchor="middle" textLength="26.25" lengthAdjust="spacingAndGlyphs">&lt;0.001</text>
<text class="tt" x="499.25" y="692.2" font-size="8.6" text-anchor="middle" textLength="26.25" lengthAdjust="spacingAndGlyphs">&lt;0.001</text>
<text class="tt" x="572.85" y="692.2" font-size="8.6" text-anchor="middle" textLength="21.55" lengthAdjust="spacingAndGlyphs">0.025</text>
<text class="tt" x="646.55" y="692.2" font-size="8.6" text-anchor="middle" textLength="21.55" lengthAdjust="spacingAndGlyphs">0.005</text>
<text class="tt" x="425.75" y="704.5" font-size="8.6" text-anchor="middle" textLength="9.58" lengthAdjust="spacingAndGlyphs">81</text>
<text class="tt" x="499.25" y="704.5" font-size="8.6" text-anchor="middle" textLength="9.58" lengthAdjust="spacingAndGlyphs">88</text>
<text class="tt" x="572.85" y="704.5" font-size="8.6" text-anchor="middle" textLength="9.58" lengthAdjust="spacingAndGlyphs">44</text>
<text class="tt" x="646.55" y="704.5" font-size="8.6" text-anchor="middle" textLength="9.58" lengthAdjust="spacingAndGlyphs">33</text>
<text class="tt" x="425.75" y="717.5" font-size="8.6" text-anchor="middle" textLength="24.44" lengthAdjust="spacingAndGlyphs">-0.098</text>
<text class="tt" x="499.25" y="717.5" font-size="8.6" text-anchor="middle" textLength="24.44" lengthAdjust="spacingAndGlyphs">-0.148</text>
<text class="tt" x="572.85" y="717.5" font-size="8.6" text-anchor="middle" textLength="19.65" lengthAdjust="spacingAndGlyphs">-0.03</text>
<text class="tt" x="646.55" y="717.5" font-size="8.6" text-anchor="middle" textLength="21.55" lengthAdjust="spacingAndGlyphs">0.021</text>
<text class="tt" x="425.75" y="730.4" font-size="8.6" text-anchor="middle" textLength="16.75" lengthAdjust="spacingAndGlyphs">0.22</text>
<text class="tt" x="499.25" y="730.4" font-size="8.6" text-anchor="middle" textLength="21.55" lengthAdjust="spacingAndGlyphs">0.056</text>
<text class="tt" x="572.85" y="730.4" font-size="8.6" text-anchor="middle" textLength="21.55" lengthAdjust="spacingAndGlyphs">0.796</text>
<text class="tt" x="646.55" y="730.4" font-size="8.6" text-anchor="middle" textLength="21.55" lengthAdjust="spacingAndGlyphs">0.867</text>
<text class="tt" x="425.75" y="742.5" font-size="8.6" text-anchor="middle" textLength="14.37" lengthAdjust="spacingAndGlyphs">158</text>
<text class="tt" x="499.25" y="742.5" font-size="8.6" text-anchor="middle" textLength="14.37" lengthAdjust="spacingAndGlyphs">168</text>
<text class="tt" x="572.85" y="742.5" font-size="8.6" text-anchor="middle" textLength="9.58" lengthAdjust="spacingAndGlyphs">78</text>
<text class="tt" x="646.55" y="742.5" font-size="8.6" text-anchor="middle" textLength="9.58" lengthAdjust="spacingAndGlyphs">64</text>
</svg></body></html>
